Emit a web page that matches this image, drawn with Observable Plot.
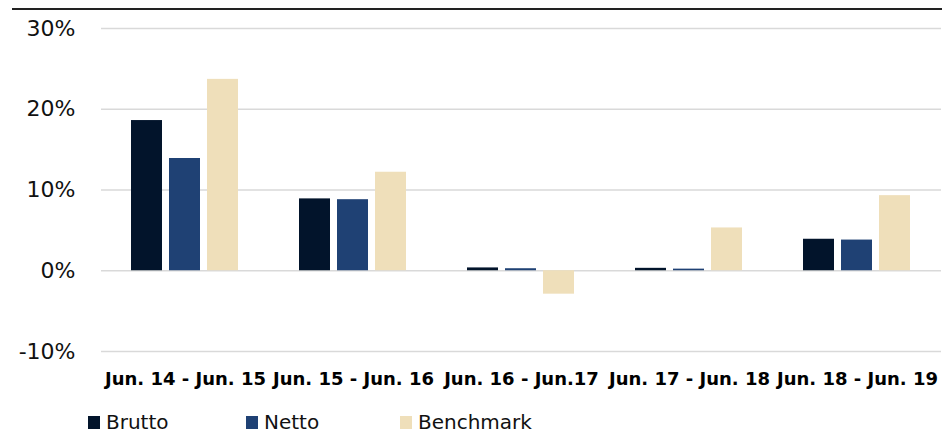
<!DOCTYPE html>
<html>
<head>
<meta charset="utf-8">
<script src="https://cdn.jsdelivr.net/npm/d3@7"></script>
<script src="https://cdn.jsdelivr.net/npm/@observablehq/plot@0.6"></script>
<style>
  html, body { margin: 0; padding: 0; background: #fff; }
  #wrap { position: relative; width: 942px; height: 435px; overflow: hidden; }
  #topline { position: absolute; left: 12px; right: 0; top: 8px; height: 0; border-top: 2px solid #222; }
  #chart { position: absolute; left: 0; top: 0; }
  #legend { position: absolute; top: 411px; left: 88px; font-family: "DejaVu Sans", sans-serif; font-size: 20px; line-height: 22px; color: #111; }
  .item { display: flex; align-items: center; position: absolute; white-space: nowrap; height: 22px; }
  .sw { width: 12px; height: 13px; margin-right: 6px; }
</style>
</head>
<body>
<div id="wrap">
  <div id="chart"></div>
  <div id="topline"></div>
  <div id="legend"></div>
</div>
<script>
const periods = ["Jun. 14 - Jun. 15", "Jun. 15 - Jun. 16", "Jun. 16 - Jun.17", "Jun. 17 - Jun. 18", "Jun. 18 - Jun. 19"];
const seriesNames = ["Brutto", "Netto", "Benchmark"];
const brutto = [18.6, 8.9, 0.35, 0.3, 3.9];
const netto = [13.9, 8.8, 0.25, 0.2, 3.8];
const benchmark = [23.7, 12.2, -2.9, 5.3, 9.3];
const colors = ["#02142b", "#1f4174", "#efdfba"];
const yTicks = [-10, 0, 10, 20, 30];

const values = [brutto, netto, benchmark];
const data = [];
periods.forEach((p, i) => {
  seriesNames.forEach((s, j) => data.push({period: p, series: s, value: values[j][i]}));
});

const chart = Plot.plot({
  width: 942,
  height: 400,
  marginLeft: 100,
  marginRight: 0,
  marginTop: 28,
  marginBottom: 49,
  style: {fontFamily: "DejaVu Sans, sans-serif", background: "transparent"},
  fx: {domain: periods, padding: 0, label: null, axis: null},
  x: {domain: seriesNames, paddingInner: 0.18, paddingOuter: 0.8, axis: null},
  y: {domain: [-10, 30], label: null},
  color: {domain: seriesNames, range: colors},
  marks: [
    Plot.ruleY(yTicks, {stroke: "#d9d9d9", strokeWidth: 1.5}),
    Plot.barY(data, {fx: "period", x: "series", y: "value", fill: "series"}),
    Plot.axisY({ticks: yTicks, tickSize: 0, tickPadding: 26, tickFormat: d => d + "%", fontSize: 22, fill: "#111", label: null}),
    Plot.axisFx({anchor: "bottom", tickSize: 0, tickPadding: 21, fontSize: 18, fontWeight: "bold", fill: "#000", label: null})
  ]
});
document.getElementById("chart").appendChild(chart);

const legend = document.getElementById("legend");
seriesNames.forEach((s, j) => {
  const it = document.createElement("div");
  it.className = "item";
  it.style.left = [0, 158, 312][j] + "px";
  const sw = document.createElement("div");
  sw.className = "sw";
  sw.style.background = colors[j];
  const t = document.createElement("span");
  t.textContent = s;
  it.appendChild(sw);
  it.appendChild(t);
  legend.appendChild(it);
});
</script>
</body>
</html>
